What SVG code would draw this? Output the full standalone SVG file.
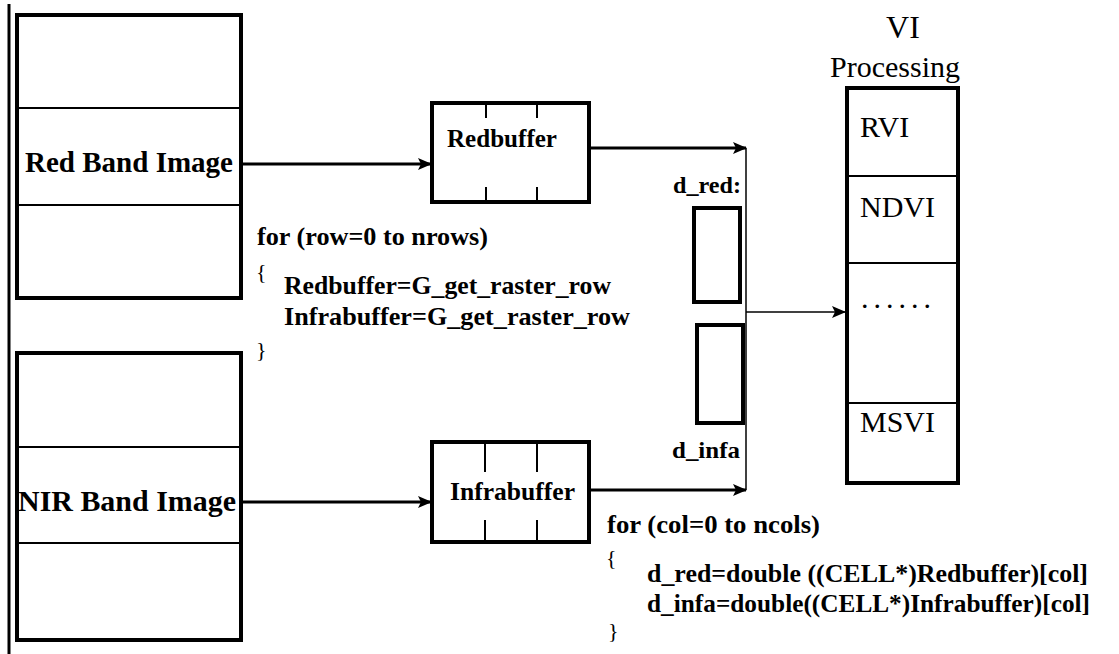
<svg xmlns="http://www.w3.org/2000/svg" width="1119" height="654" viewBox="0 0 1119 654">
<style>
.box{fill:#fff;stroke:#000;stroke-width:4}
.div{stroke:#000;stroke-width:2;fill:none}
.tick{stroke:#000;stroke-width:2}
text{font-family:'Liberation Serif','Times New Roman','DejaVu Serif',serif;fill:#000}
.lbl{font-weight:bold}
.conn{stroke:#000;fill:none}
</style>
<defs>
<marker id="ah" markerUnits="userSpaceOnUse" markerWidth="14" markerHeight="12" refX="13" refY="6" orient="auto">
<path d="M0,0 L14,6 L0,12 L3,6 Z" fill="#000"/>
</marker>
</defs>
<rect width="1119" height="654" fill="#fff"/>
<line x1="9" y1="4" x2="9" y2="654" stroke="#000" stroke-width="3"/>

<g id="red-band">
<rect class="box" x="17" y="15" width="224" height="283"/>
<line class="div" x1="17" y1="108" x2="241" y2="108"/>
<line class="div" x1="17" y1="205" x2="241" y2="205"/>
<text class="lbl" font-family="Liberation Serif, serif" x="129" y="172" font-size="30" text-anchor="middle" textLength="208" lengthAdjust="spacingAndGlyphs">Red Band Image</text>
</g>

<g id="nir-band">
<rect class="box" x="17" y="353" width="224" height="287"/>
<line class="div" x1="17" y1="447" x2="241" y2="447"/>
<line class="div" x1="17" y1="543" x2="241" y2="543"/>
<text class="lbl" font-family="Liberation Serif, serif" x="127" y="511" font-size="30" text-anchor="middle" textLength="218" lengthAdjust="spacingAndGlyphs">NIR Band Image</text>
</g>

<g id="redbuffer">
<rect class="box" x="432" y="103" width="157" height="99"/>
<line class="tick" x1="486" y1="103" x2="486" y2="118"/>
<line class="tick" x1="537" y1="103" x2="537" y2="118"/>
<line class="tick" x1="486" y1="187" x2="486" y2="202"/>
<line class="tick" x1="537" y1="187" x2="537" y2="202"/>
<text class="lbl" font-family="Liberation Serif, serif" x="447" y="147" font-size="26" textLength="110" lengthAdjust="spacingAndGlyphs">Redbuffer</text>
</g>

<g id="infrabuffer">
<rect class="box" x="432" y="442" width="157" height="100"/>
<line class="tick" x1="485" y1="442" x2="485" y2="472"/>
<line class="tick" x1="537" y1="442" x2="537" y2="472"/>
<line class="tick" x1="485" y1="520" x2="485" y2="542"/>
<line class="tick" x1="537" y1="520" x2="537" y2="542"/>
<text class="lbl" font-family="Liberation Serif, serif" x="450" y="500" font-size="26" textLength="125" lengthAdjust="spacingAndGlyphs">Infrabuffer</text>
</g>

<g id="d-red">
<rect class="box" x="694" y="208" width="46" height="94" stroke-width="3.5"/>
<text class="lbl" font-family="Liberation Serif, serif" x="673" y="193" font-size="24" textLength="68" lengthAdjust="spacingAndGlyphs">d_red:</text>
</g>

<g id="d-infa">
<rect class="box" x="697" y="325" width="46" height="98" stroke-width="3.5"/>
<text class="lbl" font-family="Liberation Serif, serif" x="672" y="458" font-size="24" textLength="68" lengthAdjust="spacingAndGlyphs">d_infa</text>
</g>

<g id="vi-processing">
<text font-family="Liberation Serif, serif" x="903" y="38" font-size="32" text-anchor="middle">VI</text>
<text font-family="Liberation Serif, serif" x="895" y="77" font-size="30" text-anchor="middle" textLength="130" lengthAdjust="spacingAndGlyphs">Processing</text>
<rect class="box" x="847" y="88" width="111" height="395"/>
<line class="div" x1="847" y1="176" x2="958" y2="176"/>
<line class="div" x1="847" y1="263" x2="958" y2="263"/>
<line class="div" x1="847" y1="403" x2="958" y2="403"/>
<text font-family="Liberation Serif, serif" x="860" y="137" font-size="30">RVI</text>
<text font-family="Liberation Serif, serif" x="860" y="217" font-size="30">NDVI</text>
<text font-family="Liberation Serif, serif" x="861" y="308" font-size="30" letter-spacing="5">......</text>
<text font-family="Liberation Serif, serif" x="860" y="432" font-size="30">MSVI</text>
</g>

<g id="code-row">
<text class="lbl" font-family="Liberation Serif, serif" x="257" y="245" font-size="25" textLength="231" lengthAdjust="spacingAndGlyphs">for (row=0 to nrows)</text>
<text font-family="Liberation Serif, serif" x="256" y="279" font-size="22">{</text>
<text class="lbl" font-family="Liberation Serif, serif" x="284" y="294" font-size="25" textLength="327" lengthAdjust="spacingAndGlyphs">Redbuffer=G_get_raster_row</text>
<text class="lbl" font-family="Liberation Serif, serif" x="284" y="325" font-size="25" textLength="346" lengthAdjust="spacingAndGlyphs">Infrabuffer=G_get_raster_row</text>
<text font-family="Liberation Serif, serif" x="256" y="357" font-size="22">}</text>
</g>

<g id="code-col">
<text class="lbl" font-family="Liberation Serif, serif" x="607" y="533" font-size="25" textLength="213" lengthAdjust="spacingAndGlyphs">for (col=0 to ncols)</text>
<text font-family="Liberation Serif, serif" x="606" y="565" font-size="22">{</text>
<text class="lbl" font-family="Liberation Serif, serif" x="647" y="582" font-size="25" textLength="441" lengthAdjust="spacingAndGlyphs">d_red=double ((CELL*)Redbuffer)[col]</text>
<text class="lbl" font-family="Liberation Serif, serif" x="647" y="612" font-size="25" textLength="443" lengthAdjust="spacingAndGlyphs">d_infa=double((CELL*)Infrabuffer)[col]</text>
<text font-family="Liberation Serif, serif" x="608" y="638" font-size="22">}</text>
</g>

<g id="connectors">
<line class="conn" x1="241" y1="164" x2="431" y2="164" stroke-width="3" marker-end="url(#ah)"/>
<line class="conn" x1="241" y1="502" x2="431" y2="502" stroke-width="3" marker-end="url(#ah)"/>
<line class="conn" x1="589" y1="148" x2="746" y2="148" stroke-width="3" marker-end="url(#ah)"/>
<line class="conn" x1="589" y1="490" x2="746" y2="490" stroke-width="3" marker-end="url(#ah)"/>
<line class="conn" x1="746" y1="148" x2="746" y2="490" stroke-width="1.5"/>
<line class="conn" x1="746" y1="312" x2="845" y2="312" stroke-width="1.5" marker-end="url(#ah)"/>
</g>
</svg>
